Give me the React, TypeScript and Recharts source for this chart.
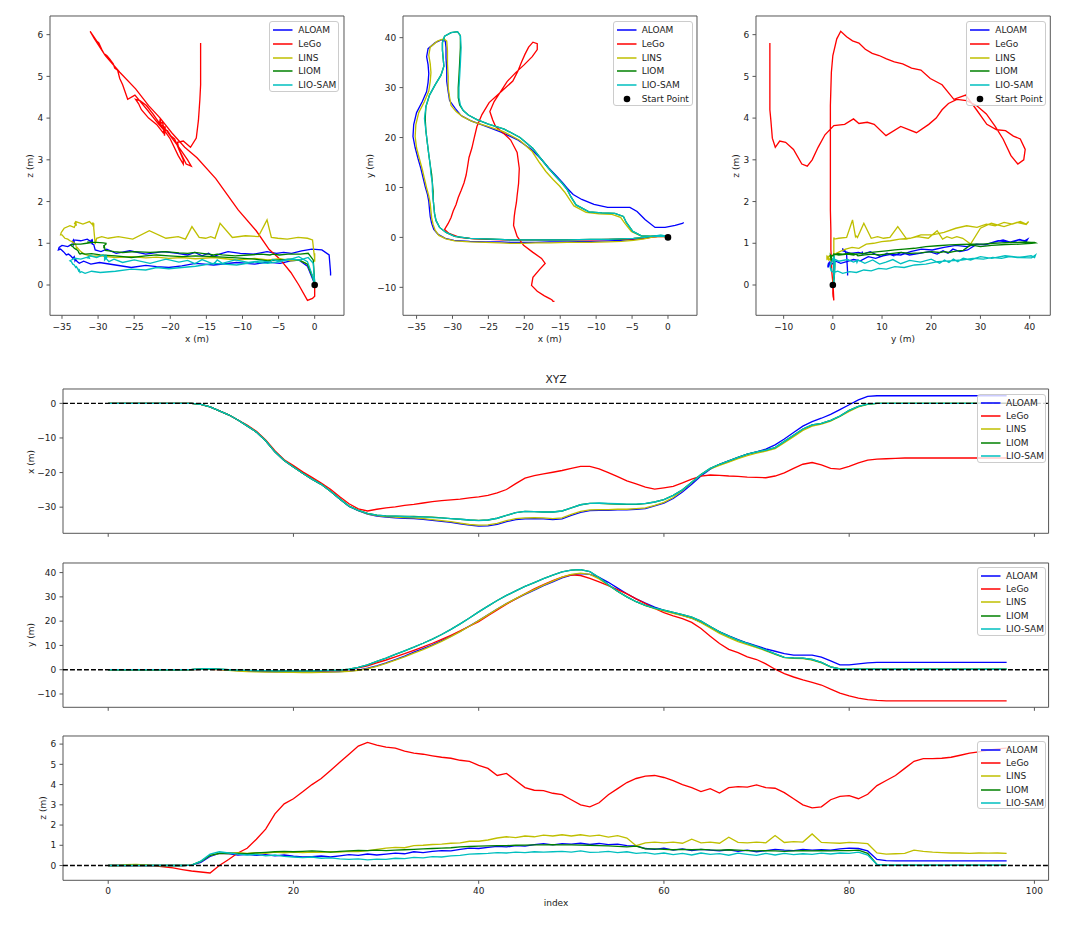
import React from 'react';
import { ComposedChart, Line, XAxis, YAxis, ReferenceLine, ReferenceDot, ReferenceArea, Legend } from 'recharts';

// sample index (time axis of the XYZ panels)
const index = [
  0, 1, 2, 3, 4, 5, 6, 7, 8, 9,
  10, 11, 12, 13, 14, 15, 16, 17, 18, 19,
  20, 21, 22, 23, 24, 25, 26, 27, 28, 29,
  30, 31, 32, 33, 34, 35, 36, 37, 38, 39,
  40, 41, 42, 43, 44, 45, 46, 47, 48, 49,
  50, 51, 52, 53, 54, 55, 56, 57, 58, 59,
  60, 61, 62, 63, 64, 65, 66, 67, 68, 69,
  70, 71, 72, 73, 74, 75, 76, 77, 78, 79,
  80, 81, 82, 83, 84, 85, 86, 87, 88, 89,
  90, 91, 92, 93, 94, 95, 96, 97,
];

// ---- x (m) ----
const aloamX = [
  0, 0, 0, 0, 0, 0, 0, 0, 0, 0,
  -0.3, -1.0, -2.2, -3.3, -4.8, -6.5, -8.3, -10.8, -14.0, -16.5,
  -18.4, -20.2, -21.9, -23.4, -25.4, -27.6, -29.8, -31.0, -32.0, -32.6,
  -32.9, -33.1, -33.2, -33.3, -33.5, -33.8, -34.1, -34.4, -34.8, -35.2,
  -35.5, -35.4, -35.0, -34.2, -33.6, -33.4, -33.3, -33.4, -33.6, -33.4,
  -32.4, -31.5, -31.0, -30.9, -30.9, -30.8, -30.8, -30.6, -30.4, -29.6,
  -28.8, -27.5, -25.6, -23.4, -21.0, -19.0, -17.6, -16.6, -15.6, -14.7,
  -14.0, -13.2, -12.0, -10.3, -8.4, -6.6, -5.3, -4.3, -3.2, -1.8,
  -0.4, 1.0, 2.0, 2.2, 2.2, 2.2, 2.2, 2.2, 2.2, 2.2,
  2.2, 2.2, 2.2, 2.2, 2.2, 2.2, 2.2, 2.2,
];
const legoX = [
  0, 0, 0, 0, 0, 0, 0, 0, 0, 0,
  -0.3, -1.0, -2.2, -3.3, -4.8, -6.3, -8.1, -10.6, -13.7, -16.3,
  -18.0, -19.8, -21.4, -23.0, -24.8, -27.0, -29.0, -30.5, -31.1, -30.6,
  -30.2, -29.9, -29.5, -29.2, -28.8, -28.4, -28.1, -27.9, -27.7, -27.3,
  -27.0, -26.6, -25.9, -24.9, -23.2, -21.6, -20.9, -20.4, -19.9, -19.4,
  -18.8, -18.2, -18.2, -18.9, -20.0, -21.2, -22.4, -23.3, -24.2, -24.8,
  -24.4, -24.0, -23.0, -21.9, -21.0, -20.7, -20.8, -21.0, -21.1, -21.3,
  -21.4, -21.5, -21.0, -20.1, -18.8, -17.6, -17.1, -17.8, -18.8, -19.0,
  -18.2, -17.2, -16.4, -16.1, -16.0, -15.9, -15.8, -15.8, -15.8, -15.8,
  -15.8, -15.8, -15.8, -15.8, -15.8, -15.8, -15.8, -15.8,
];
const linsX = [
  0, 0, 0, 0, 0, 0, 0, 0, 0, 0,
  -0.3, -1.0, -2.2, -3.3, -4.8, -6.5, -8.3, -10.8, -14.0, -16.5,
  -18.4, -20.2, -21.9, -23.4, -25.4, -27.6, -29.7, -30.9, -31.9, -32.4,
  -32.7, -32.9, -33.0, -33.1, -33.3, -33.6, -33.9, -34.2, -34.6, -35.0,
  -35.2, -35.1, -34.7, -33.9, -33.3, -33.1, -33.0, -33.1, -33.3, -33.1,
  -32.1, -31.2, -30.8, -30.7, -30.7, -30.6, -30.6, -30.4, -30.2, -29.5,
  -28.6, -27.2, -25.2, -22.9, -20.6, -18.9, -17.9, -17.0, -16.0, -15.1,
  -14.4, -13.8, -13.1, -11.4, -9.6, -7.8, -6.6, -6.0, -5.1, -3.8,
  -2.3, -1.0, -0.3, 0, 0, 0, 0, 0, 0, 0,
  0, 0, 0, 0, 0, 0, 0, 0,
];
const liomX = [
  0, 0, 0, 0, 0, 0, 0, 0, 0, 0,
  -0.3, -1.0, -2.2, -3.3, -4.8, -6.5, -8.3, -10.8, -14.0, -16.5,
  -18.4, -20.2, -21.9, -23.4, -25.4, -27.6, -29.7, -30.9, -31.8, -32.3,
  -32.5, -32.6, -32.7, -32.7, -32.8, -32.9, -33.1, -33.3, -33.5, -33.7,
  -33.8, -33.7, -33.2, -32.4, -31.6, -31.2, -31.3, -31.4, -31.4, -31.1,
  -30.2, -29.3, -28.9, -28.9, -29.0, -29.1, -29.2, -29.2, -29.0, -28.5,
  -27.8, -26.6, -25.0, -22.8, -20.6, -18.8, -17.6, -16.6, -15.6, -14.7,
  -14.0, -13.5, -12.8, -11.0, -9.2, -7.4, -6.2, -5.8, -4.9, -3.7,
  -2.0, -0.9, -0.2, 0, 0, 0, 0, 0, 0, 0,
  0, 0, 0, 0, 0, 0, 0, 0,
];
const liosamX = [
  0, 0, 0, 0, 0, 0, 0, 0, 0, 0,
  -0.3, -1.0, -2.2, -3.3, -4.8, -6.5, -8.3, -10.8, -14.0, -16.5,
  -18.4, -20.2, -21.9, -23.4, -25.4, -27.6, -29.7, -30.9, -31.8, -32.3,
  -32.5, -32.6, -32.7, -32.8, -32.8, -33.0, -33.1, -33.3, -33.5, -33.7,
  -33.9, -33.7, -33.2, -32.4, -31.6, -31.2, -31.3, -31.4, -31.4, -31.1,
  -30.2, -29.3, -28.9, -28.8, -28.9, -29.0, -29.1, -29.1, -28.9, -28.5,
  -27.8, -26.6, -25.0, -22.8, -20.6, -18.8, -17.6, -16.6, -15.6, -14.7,
  -14.0, -13.5, -12.8, -11.0, -9.2, -7.4, -6.2, -5.8, -4.9, -3.7,
  -2.0, -0.9, -0.2, 0, 0, 0, 0, 0, 0, 0,
  0, 0, 0, 0, 0, 0, 0, 0,
];

// ---- y (m) ----
const aloamY = [
  0, 0, 0, 0, 0, 0, 0, 0, 0, 0.05,
  0.15, 0.25, 0.1, -0.2, -0.4, -0.6, -0.7, -0.8, -0.9, -0.9,
  -1.0, -1.0, -1.0, -0.9, -0.9, -0.8, -0.6, -0.2, 0.6, 1.6,
  2.8, 4.2, 5.6, 7.2, 8.7, 10.2, 12.0, 13.8, 15.8, 18.0,
  20.2, 22.6, 25.0, 27.2, 29.2, 31.0, 32.8, 34.6, 36.2, 37.8,
  39.0, 39.6, 39.3, 38.0, 36.0, 33.6, 31.3, 29.2, 27.4, 25.8,
  24.4, 23.4, 22.4, 21.2, 19.6, 17.6, 15.6, 13.9, 12.4, 11.0,
  9.8, 8.6, 7.6, 6.6, 6.0, 6.0, 6.0, 5.2, 3.6, 2.0,
  2.0, 2.4, 2.8, 3.0, 3.0, 3.0, 3.0, 3.0, 3.0, 3.0,
  3.0, 3.0, 3.0, 3.0, 3.0, 3.0, 3.0, 3.0,
];
const legoY = [
  0, 0, 0, 0, 0, 0, 0, 0, 0, 0.05,
  0.15, 0.2, 0.05, -0.2, -0.3, -0.4, -0.4, -0.5, -0.5, -0.5,
  -0.5, -0.5, -0.5, -0.5, -0.4, -0.3, 0, 0.8, 1.6, 2.8,
  4.0, 5.3, 6.6, 8.0, 9.4, 10.9, 12.5, 14.2, 16.0, 17.9,
  19.8, 22.2, 24.6, 27.0, 29.2, 31.3, 33.3, 35.1, 36.7, 38.1,
  39.1, 38.8, 37.6, 36.2, 34.6, 33.0, 31.2, 29.2, 27.2, 25.2,
  23.5, 22.2, 21.0, 19.5, 17.0, 13.8, 10.8, 8.4, 7.0, 5.3,
  4.2, 2.4, 0.2, -1.6, -3.0, -4.2, -5.2, -6.3, -8.0, -9.6,
  -10.8, -11.7, -12.3, -12.6, -12.8, -12.8, -12.8, -12.8, -12.8, -12.8,
  -12.8, -12.8, -12.8, -12.8, -12.8, -12.8, -12.8, -12.8,
];
const linsY = [
  0, 0, 0, 0, 0, 0, 0, 0, 0, 0.05,
  0.15, 0.2, 0.05, -0.3, -0.6, -0.8, -0.9, -1.0, -1.0, -1.1,
  -1.1, -1.2, -1.2, -1.1, -1.0, -0.9, -0.7, -0.3, 0.4, 1.4,
  2.6, 3.9, 5.3, 6.8, 8.3, 9.9, 11.7, 13.6, 15.7, 17.9,
  20.2, 22.6, 25.0, 27.2, 29.3, 31.2, 33.0, 34.8, 36.5, 38.1,
  39.3, 39.8, 39.3, 37.4, 34.8, 32.2, 30.0, 28.0, 26.4, 25.2,
  24.2, 23.2, 22.3, 21.2, 19.4, 17.2, 15.0, 13.2, 11.6, 10.3,
  9.1, 7.8, 6.3, 5.0, 4.7, 4.6, 4.0, 2.8, 1.2, 0.3,
  0.2, 0.2, 0.2, 0.2, 0.2, 0.2, 0.2, 0.2, 0.2, 0.2,
  0.2, 0.2, 0.2, 0.2, 0.2, 0.2, 0.2, 0.2,
];
const liomY = [
  0, 0, 0, 0, 0, 0, 0, 0, 0, 0.1,
  0.3, 0.4, 0.25, 0, -0.2, -0.3, -0.4, -0.4, -0.5, -0.5,
  -0.5, -0.5, -0.5, -0.4, -0.3, -0.2, 0.2, 1.0, 2.0, 3.4,
  4.8, 6.3, 7.8, 9.3, 10.9, 12.6, 14.5, 16.6, 18.9, 21.3,
  23.8, 26.2, 28.5, 30.6, 32.5, 34.3, 35.9, 37.5, 39.0, 40.3,
  41.0, 41.2, 40.4, 38.0, 35.0, 32.3, 30.0, 28.0, 26.5, 25.4,
  24.5, 23.6, 22.7, 21.7, 20.0, 17.8, 15.6, 13.8, 12.2, 10.8,
  9.5, 8.1, 6.5, 5.1, 4.9, 4.8, 4.2, 3.0, 1.2, 0.3,
  0.2, 0.2, 0.2, 0.2, 0.2, 0.2, 0.2, 0.2, 0.2, 0.2,
  0.2, 0.2, 0.2, 0.2, 0.2, 0.2, 0.2, 0.2,
];
const liosamY = [
  0, 0, 0, 0, 0, 0, 0, 0, 0, 0.1,
  0.3, 0.45, 0.25, 0, -0.2, -0.3, -0.4, -0.4, -0.5, -0.5,
  -0.5, -0.5, -0.5, -0.4, -0.3, -0.2, 0.2, 1.0, 2.0, 3.4,
  4.8, 6.3, 7.8, 9.3, 10.9, 12.6, 14.5, 16.6, 18.9, 21.3,
  23.8, 26.2, 28.5, 30.6, 32.5, 34.3, 35.9, 37.5, 39.0, 40.3,
  41.0, 41.2, 40.4, 38.0, 35.0, 32.3, 30.0, 28.0, 26.5, 25.4,
  24.5, 23.6, 22.7, 21.7, 20.0, 17.8, 15.6, 13.8, 12.2, 10.8,
  9.5, 8.1, 6.5, 5.1, 4.9, 4.8, 4.2, 3.0, 1.2, 0.3,
  0.2, 0.2, 0.2, 0.2, 0.2, 0.2, 0.2, 0.2, 0.2, 0.2,
  0.2, 0.2, 0.2, 0.2, 0.2, 0.2, 0.2, 0.2,
];

// ---- z (m) ----
const aloamZ = [
  0, 0, 0, 0, 0, 0, 0, 0, 0, 0.02,
  0.15, 0.45, 0.6, 0.58, 0.52, 0.55, 0.5, 0.54, 0.48, 0.52,
  0.46, 0.42, 0.44, 0.47, 0.42, 0.48, 0.54, 0.5, 0.57, 0.52,
  0.56, 0.61, 0.58, 0.68, 0.64, 0.7, 0.74, 0.72, 0.8, 0.86,
  0.84, 0.9, 0.95, 0.92, 0.98, 0.96, 1.03, 1.08, 1.02, 1.08,
  1.06, 1.1, 1.04, 1.09, 1.03, 1.06, 0.98, 0.97, 0.84, 0.8,
  0.86, 0.76, 0.82, 0.74, 0.8, 0.76, 0.72, 0.78, 0.7, 0.76,
  0.68, 0.74, 0.8, 0.76, 0.74, 0.8, 0.76, 0.78, 0.76, 0.82,
  0.86, 0.84, 0.72, 0.3, 0.24, 0.23, 0.23, 0.23, 0.23, 0.23,
  0.23, 0.23, 0.23, 0.23, 0.23, 0.23, 0.23, 0.23,
];
const legoZ = [
  0, 0, 0, 0, 0, -0.02, -0.06, -0.12, -0.2, -0.27,
  -0.32, -0.37, 0.0, 0.3, 0.62, 0.85, 1.3, 1.8, 2.55, 3.05,
  3.3, 3.65, 4.0, 4.3, 4.7, 5.1, 5.5, 5.9, 6.08, 5.95,
  5.85, 5.8, 5.65, 5.55, 5.5, 5.42, 5.35, 5.3, 5.2, 5.15,
  4.95, 4.8, 4.45, 4.55, 4.2, 3.85, 3.72, 3.7, 3.57, 3.5,
  3.25, 3.0, 2.9, 3.1, 3.5, 3.8, 4.1, 4.3, 4.42, 4.45,
  4.35, 4.2, 4.0, 3.85, 3.65, 3.8, 3.58, 3.85, 3.9, 3.87,
  3.98, 3.85, 3.82, 3.6, 3.3, 3.0, 2.85, 2.9, 3.25, 3.42,
  3.45, 3.3, 3.52, 3.95, 4.2, 4.45, 4.8, 5.15, 5.28, 5.28,
  5.3, 5.35, 5.45, 5.55, 5.62, 5.7, 5.76, 5.8,
];
const linsZ = [
  0, 0, 0.04, 0.06, 0.03, 0.01, 0, 0, 0, 0.02,
  0.2, 0.5, 0.6, 0.58, 0.63, 0.6, 0.64, 0.6, 0.66, 0.63,
  0.66, 0.64, 0.67, 0.65, 0.68, 0.66, 0.7, 0.69, 0.74, 0.8,
  0.86, 0.9, 0.88, 0.98, 1.0, 1.04, 1.06, 1.1, 1.12, 1.2,
  1.2, 1.26, 1.36, 1.42, 1.38, 1.46, 1.42, 1.5, 1.46, 1.52,
  1.46, 1.52, 1.45, 1.5, 1.4, 1.48, 1.36, 0.98, 1.12, 1.16,
  1.12, 1.16, 1.1, 1.3, 1.12, 1.16, 1.1, 1.4, 1.14, 1.12,
  1.16, 1.12, 1.48, 1.14, 1.18, 1.16, 1.56, 1.14, 1.12, 1.1,
  1.14, 1.12, 1.08, 0.62, 0.56, 0.58, 0.6, 0.76, 0.7, 0.66,
  0.64, 0.62, 0.62, 0.6, 0.62, 0.61, 0.62, 0.6,
];
const liomZ = [
  0, 0, 0, 0, 0, 0, 0, 0, 0, 0.02,
  0.2, 0.5, 0.6, 0.62, 0.6, 0.58, 0.62, 0.65, 0.68, 0.7,
  0.68, 0.7, 0.72, 0.7, 0.66, 0.7, 0.72, 0.75, 0.74, 0.76,
  0.74, 0.76, 0.78, 0.8, 0.82, 0.84, 0.86, 0.88, 0.92, 0.94,
  0.96, 0.97, 0.98, 0.98, 1.0, 1.01, 1.02, 1.02, 1.03, 1.02,
  1.02, 1.01, 1.0, 0.98, 0.97, 0.95, 0.92, 0.96, 0.83, 0.82,
  0.8, 0.78, 0.8, 0.78, 0.8, 0.77, 0.76, 0.78, 0.76, 0.74,
  0.72, 0.74, 0.72, 0.7, 0.72, 0.74, 0.72, 0.74, 0.72, 0.74,
  0.74, 0.76, 0.6, 0.05, 0.02, 0.02, 0.02, 0.02, 0.02, 0.02,
  0.02, 0.02, 0.02, 0.02, 0.02, 0.02, 0.02, 0.02,
];
const liosamZ = [
  0, 0, 0, 0, 0, 0, 0, 0, 0, 0.02,
  0.22, 0.56, 0.68, 0.62, 0.56, 0.52, 0.55, 0.48, 0.52, 0.45,
  0.42, 0.39, 0.42, 0.36, 0.38, 0.33, 0.3, 0.33, 0.28, 0.32,
  0.3, 0.36, 0.34, 0.4, 0.38, 0.44, 0.42, 0.48, 0.5, 0.56,
  0.58, 0.6, 0.64, 0.62, 0.66, 0.64, 0.68, 0.66, 0.68, 0.7,
  0.66, 0.72, 0.65, 0.66, 0.7, 0.64, 0.68, 0.6, 0.64, 0.56,
  0.62, 0.54, 0.6, 0.52, 0.62, 0.55, 0.59, 0.51, 0.61, 0.55,
  0.5, 0.6, 0.52, 0.6, 0.54, 0.58, 0.55, 0.61, 0.57, 0.62,
  0.6, 0.66, 0.52, 0.05, 0.02, 0.02, 0.02, 0.02, 0.02, 0.02,
  0.02, 0.02, 0.02, 0.02, 0.02, 0.02, 0.02, 0.02,
];

const FONT = '"DejaVu Sans", sans-serif';
const INK = '#222';
const SPINE = '#555';
const LW = 1.33;

const methods = [
  { name: 'ALOAM', color: '#0000ff', x: aloamX, y: aloamY, z: aloamZ },
  { name: 'LeGo', color: '#ff0000', x: legoX, y: legoY, z: legoZ },
  { name: 'LINS', color: '#bfbf00', x: linsX, y: linsY, z: linsZ },
  { name: 'LIOM', color: '#008000', x: liomX, y: liomY, z: liomZ },
  { name: 'LIO-SAM', color: '#00bfbf', x: liosamX, y: liosamY, z: liosamZ },
];

const tables = methods.map((m) =>
  index.map((i, k) => ({ i, x: m.x[k], y: m.y[k], z: m.z[k] }))
);

const minus = (v: number) => String(v).replace('-', '\u2212');
const blank = () => '';
const tickStyle = { fontSize: 9, fill: INK, fontFamily: FONT };

// chart frame paddings around the axes box
const YW = 40;
const XH = 30;
const MT = 6;
const MR = 6;

type Box = { left: number; top: number; width: number; height: number };

function LegendBody({ width, height, first, gap, startPoint }: any) {
  const rows = methods.map((m) => ({ name: m.name, color: m.color, dot: false }));
  if (startPoint) rows.push({ name: 'Start Point', color: '#000', dot: true });
  return (
    <div
      style={{
        position: 'relative',
        width,
        height,
        boxSizing: 'border-box',
        border: '1px solid #cccccc',
        borderRadius: 3,
        background: 'rgba(255,255,255,0.8)',
        fontFamily: FONT,
        fontSize: 9,
        color: INK,
      }}
    >
      {rows.map((r, k) => (
        <div key={r.name} style={{ position: 'absolute', left: 0, top: Math.round(first + k * gap - 6), height: 12, width: '100%' }}>
          <svg width={24} height={12} style={{ position: 'absolute', left: 1, top: 0 }}>
            {r.dot ? (
              <circle cx={12} cy={6} r={3.3} fill="#000" />
            ) : (
              <line x1={2} y1={6} x2={21.5} y2={6} stroke={r.color} strokeWidth={1.5} />
            )}
          </svg>
          <span style={{ position: 'absolute', left: 28, top: 0, lineHeight: '12px', whiteSpace: 'nowrap' }}>{r.name}</span>
        </div>
      ))}
    </div>
  );
}

function TrajPlot({ ax, xKey, yKey, xDomain, yDomain, xTicks, yTicks, legend, startPoint }: any) {
  const cl = ax.left - YW;
  const ct = ax.top - MT;
  const W = YW + ax.width + MR;
  const H = MT + ax.height + XH;
  const lg: Box = legend;
  return (
    <div style={{ position: 'absolute', left: cl, top: ct }}>
      <ComposedChart width={W} height={H} margin={{ top: MT, right: MR, bottom: 0, left: 0 }}>
        <XAxis dataKey={xKey} type="number" domain={xDomain} ticks={xTicks} allowDataOverflow tickFormatter={minus}
          height={XH} tickSize={3.5} tickMargin={4.5} tick={tickStyle} stroke={SPINE} axisLine={false} />
        <YAxis type="number" domain={yDomain} ticks={yTicks} allowDataOverflow tickFormatter={minus}
          width={YW} tickSize={3.5} tickMargin={3.2} tick={tickStyle} stroke={SPINE} axisLine={false} />
        <ReferenceArea x1={xDomain[0]} x2={xDomain[1]} y1={yDomain[0]} y2={yDomain[1]} fill="none"
          stroke={SPINE} strokeWidth={1} ifOverflow="visible" />
        {methods.map((m, k) => (
          <Line key={m.name} data={tables[k]} dataKey={yKey} stroke={m.color} strokeWidth={LW} dot={false}
            activeDot={false} isAnimationActive={false} type="linear" />
        ))}
        <ReferenceDot x={0} y={0} r={3.3} fill="#000" stroke="none" />
        <Legend
          layout="vertical"
          align="center"
          verticalAlign="middle"
          wrapperStyle={{ left: lg.left - cl, top: lg.top - ct, width: lg.width, height: lg.height }}
          content={() => <LegendBody width={lg.width} height={lg.height} first={8.3} gap={13.67} startPoint={startPoint} />}
        />
      </ComposedChart>
    </div>
  );
}

const BOT = { left: 63.4, width: 985.6, height: 144.3 };
const IDX_DOMAIN = [-4.88, 101.53];

function SeriesPlot({ top, coord, yDomain, yTicks, showIndex, legendTop }: any) {
  const cl = BOT.left - YW;
  const ct = top - MT;
  const W = YW + BOT.width + MR;
  const H = MT + BOT.height + XH;
  return (
    <div style={{ position: 'absolute', left: cl, top: ct }}>
      <ComposedChart width={W} height={H} margin={{ top: MT, right: MR, bottom: 0, left: 0 }}>
        <XAxis dataKey="i" type="number" domain={IDX_DOMAIN} ticks={[0, 20, 40, 60, 80, 100]} allowDataOverflow
          tickFormatter={showIndex ? minus : blank}
          height={XH} tickSize={3.5} tickMargin={3.5} tick={tickStyle} stroke={SPINE} axisLine={false} />
        <YAxis type="number" domain={yDomain} ticks={yTicks} allowDataOverflow tickFormatter={minus}
          width={YW} tickSize={3.5} tickMargin={3.2} tick={tickStyle} stroke={SPINE} axisLine={false} />
        <ReferenceArea x1={IDX_DOMAIN[0]} x2={IDX_DOMAIN[1]} y1={yDomain[0]} y2={yDomain[1]} fill="none"
          stroke={SPINE} strokeWidth={1} ifOverflow="visible" />
        {methods.map((m, k) => (
          <Line key={m.name} data={tables[k]} dataKey={coord} stroke={m.color} strokeWidth={LW} dot={false}
            activeDot={false} isAnimationActive={false} type="linear" />
        ))}
        <ReferenceLine y={0} stroke="#000" strokeWidth={LW} strokeDasharray="4.9 2.1" />
        <Legend
          layout="vertical"
          align="center"
          verticalAlign="middle"
          wrapperStyle={{ left: 977 - cl, top: legendTop - ct, width: 68.6, height: 68.7 }}
          content={() => <LegendBody width={68.6} height={68.7} first={7.7} gap={13.33} startPoint={false} />}
        />
      </ComposedChart>
    </div>
  );
}

function Label({ x, y, text, rotate, size }: any) {
  return (
    <div
      style={{
        position: 'absolute',
        left: x,
        top: y,
        transform: `translate(-50%, -50%)${rotate ? ' rotate(-90deg)' : ''}`,
        fontSize: size || 9,
        color: INK,
        whiteSpace: 'nowrap',
        lineHeight: 1,
      }}
    >
      {text}
    </div>
  );
}

export default function App() {
  const axTop = 16;
  const axH = 299.3;
  return (
    <div style={{ position: 'absolute', left: 0, top: 0, width: 1077, height: 928, background: '#fff', fontFamily: FONT }}>
      <TrajPlot
        ax={{ left: 50, top: axTop, width: 294, height: axH }}
        xKey="x" yKey="z"
        xDomain={[-36.66, 4.06]} yDomain={[-0.726, 6.447]}
        xTicks={[-35, -30, -25, -20, -15, -10, -5, 0]} yTicks={[0, 1, 2, 3, 4, 5, 6]}
        legend={{ left: 269.3, top: 20.7, width: 70, height: 71.3 }}
        startPoint={false}
      />
      <TrajPlot
        ax={{ left: 402.7, top: axTop, width: 294, height: axH }}
        xKey="x" yKey="y"
        xDomain={[-36.89, 4.04]} yDomain={[-15.6, 44.34]}
        xTicks={[-35, -30, -25, -20, -15, -10, -5, 0]} yTicks={[-10, 0, 10, 20, 30, 40]}
        legend={{ left: 612.7, top: 20.7, width: 80, height: 85 }}
        startPoint
      />
      <TrajPlot
        ax={{ left: 756, top: axTop, width: 294.3, height: axH }}
        xKey="y" yKey="z"
        xDomain={[-15.62, 44.2]} yDomain={[-0.726, 6.447]}
        xTicks={[-10, 0, 10, 20, 30, 40]} yTicks={[0, 1, 2, 3, 4, 5, 6]}
        legend={{ left: 966.3, top: 20.7, width: 79.4, height: 85 }}
        startPoint
      />
      <Label x={197} y={339} text="x (m)" />
      <Label x={30} y={165.6} text="z (m)" rotate />
      <Label x={549.7} y={339} text="x (m)" />
      <Label x={370} y={165.6} text="y (m)" rotate />
      <Label x={903} y={339} text="y (m)" />
      <Label x={736} y={165.6} text="z (m)" rotate />

      <Label x={556} y={380} text="XYZ" size={10.7} />
      <SeriesPlot top={389.3} coord="x" yDomain={[-37.55, 4.15]} yTicks={[-30, -20, -10, 0]} showIndex={false} legendTop={394} />
      <SeriesPlot top={562.7} coord="y" yDomain={[-15.48, 43.95]} yTicks={[-10, 0, 10, 20, 30, 40]} showIndex={false} legendTop={567.3} />
      <SeriesPlot top={736.1} coord="z" yDomain={[-0.73, 6.4]} yTicks={[0, 1, 2, 3, 4, 5, 6]} showIndex legendTop={740.7} />
      <Label x={31} y={461.5} text="x (m)" rotate />
      <Label x={31} y={634.9} text="y (m)" rotate />
      <Label x={43} y={808} text="z (m)" rotate />
      <Label x={556} y={903} text="index" />
    </div>
  );
}
